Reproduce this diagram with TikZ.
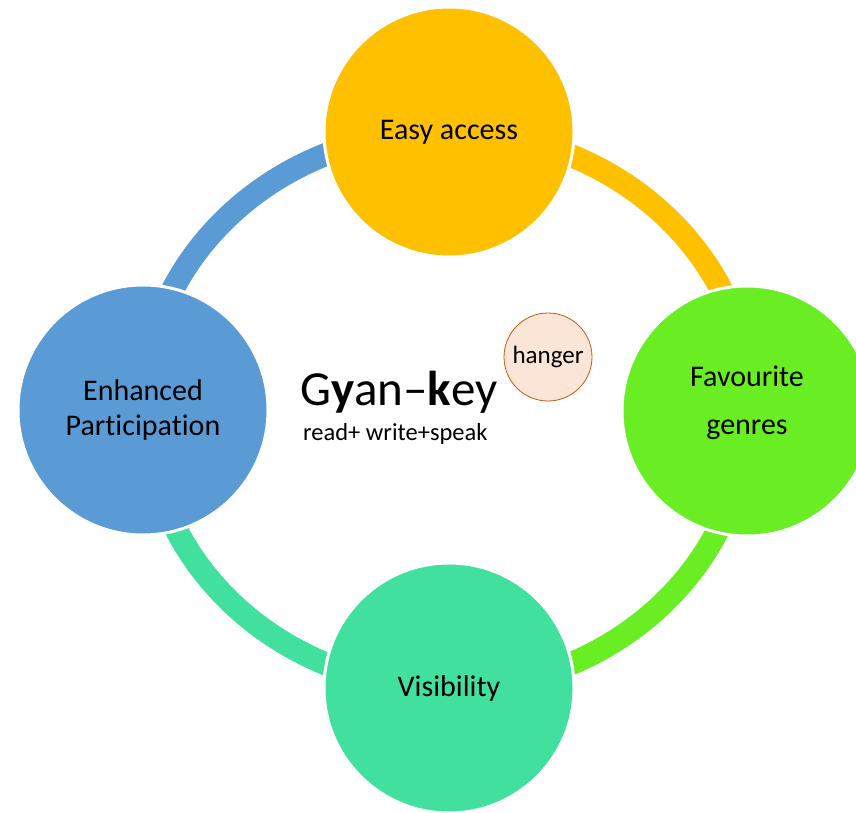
\documentclass[tikz,border=0pt]{standalone}
\usepackage{fontspec}
\setmainfont{Carlito}[Ligatures=NoCommon]
\usetikzlibrary{backgrounds}
\definecolor{cgold}{HTML}{FFC000}
\definecolor{cgreen}{HTML}{68EE22}
\definecolor{cteal}{HTML}{41E09E}
\definecolor{cblue}{HTML}{5B9BD5}
\definecolor{cpeach}{HTML}{FBE5D6}
\definecolor{cbrown}{HTML}{C55A11}
\tikzset{
  bigcirc/.style={circle, minimum size=250pt, inner sep=0pt, draw=white, line width=3pt, align=center, font=\fontsize{30}{35}\selectfont},
  ring/.style={line width=23pt},
}
\begin{document}
\begin{tikzpicture}[x=1pt,y=-1pt]
\useasboundingbox (0,0) rectangle (856,813);
\node[bigcirc, fill=cgold]  (T) at (449,132) {\raisebox{3pt}{Easy access}};
\node[bigcirc, fill=cgreen, label={[align=center, font=\fontsize{30}{35}\selectfont, yshift=8pt]center:Favourite\\[13pt]genres}] (R) at (747,411) {};
\node[bigcirc, fill=cteal]  (B) at (449,688) {\raisebox{-3pt}{Visibility}};
\node[bigcirc, fill=cblue]  (L) at (143,410) {Enhanced\\Participation};
\node[circle, minimum size=88pt, inner sep=0pt, fill=cpeach, draw=cbrown, line width=0.8pt, font=\fontsize{25}{29}\selectfont] (H) at (548,357) {hanger};
\node[anchor=base west, inner sep=0pt, font=\fontsize{49}{58}\selectfont] (G) at (300,405) {G\textbf{y}an–\textbf{k}ey};
\node[anchor=base west, inner sep=0pt, font=\fontsize{24.5}{29}\selectfont] (S) at (303,440) {read+ write+speak};
\begin{scope}[on background layer]
  \draw[ring, cblue]  (L.center) arc[start angle=180, end angle=90,  x radius=302, y radius=-278];
  \draw[ring, cgold]  (T.center) arc[start angle=90,  end angle=0,   x radius=302, y radius=-278];
  \draw[ring, cgreen] (R.center) arc[start angle=0,   end angle=-90, x radius=302, y radius=-278];
  \draw[ring, cteal]  (B.center) arc[start angle=270, end angle=180, x radius=302, y radius=-278];
\end{scope}
\end{tikzpicture}
\end{document}
